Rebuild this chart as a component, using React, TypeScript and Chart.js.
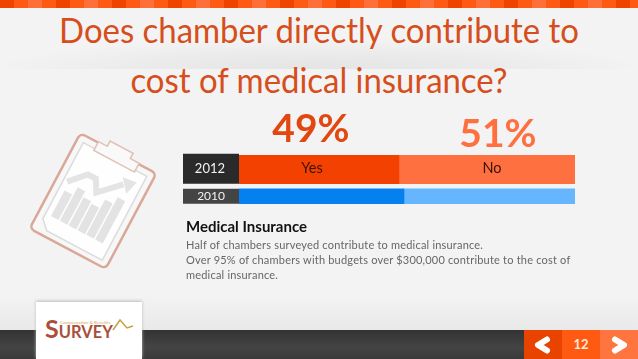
import React, { useEffect, useRef } from "react";
import { Chart, registerables } from "chart.js";

Chart.register(...registerables);

const years = ["2012", "2010"];
const answers = ["Yes", "No"];
const yes2012 = [47.6, null];
const no2012 = [52.4, null];
const yes2010 = [null, 49.1];
const no2010 = [null, 50.9];
const headlineLabels = ["49%", "51%"];
const titleLines = ["Does chamber directly contribute to", "cost of medical insurance?"];
const stripeColors = ["#ee4400", "#ff5a14", "#ff7038", "#ff5a14"];
const FONT = "Lato, sans-serif";

const chartDecor = {
  id: "chartDecor",
  afterDatasetsDraw(chart: any) {
    const { ctx, scales } = chart;
    const x = scales.x;
    const y = scales.y;
    const split = x.getPixelForValue(yes2012[0] as number);
    const end = x.getPixelForValue(100);
    const start = x.getPixelForValue(0);
    const rowY = y.getPixelForValue(0);
    ctx.save();
    ctx.textAlign = "center";
    ctx.textBaseline = "middle";
    ctx.font = `14.5px ${FONT}`;
    ctx.fillStyle = "#3a1206";
    ctx.fillText(answers[0], (start + split) / 2 - 7, rowY);
    ctx.fillText(answers[1], (split + end) / 2 + 5, rowY);
    ctx.font = `bold 39px ${FONT}`;
    ctx.fillStyle = "#e2470f";
    ctx.fillText(headlineLabels[0], (start + split) / 2 - 8, 129);
    ctx.fillStyle = "#ff7040";
    ctx.fillText(headlineLabels[1], (split + end) / 2 + 11, 134);
    ctx.restore();
  },
};

const labelCells = {
  id: "labelCells",
  beforeDraw(chart: any) {
    const { ctx, scales, chartArea } = chart;
    const y = scales.y;
    ctx.save();
    ctx.fillStyle = "#2a2a2a";
    ctx.fillRect(183, y.getPixelForValue(0) - 15, chartArea.left - 183, 30);
    ctx.fillStyle = "#444444";
    ctx.fillRect(183, y.getPixelForValue(1) - 7.5, chartArea.left - 183, 15);
    ctx.restore();
  },
};

const abs = (left: number, top: number, width: number, height: number, extra: React.CSSProperties = {}): React.CSSProperties => ({
  position: "absolute",
  left,
  top,
  width,
  height,
  ...extra,
});

const clipBarTops = [85, 76, 82, 84, 74, 66];

function Clipboard() {
  return (
    <svg style={abs(30, 120, 150, 180)} viewBox="0 0 150 180">
      <g transform="rotate(28 63 81)">
        <rect x="20" y="27" width="86" height="108" rx="5" fill="#f7f7f7" stroke="#d9a898" strokeWidth="2.5" />
        <path d="M27 34 H99 V129 H36 L27 120 Z" fill="#fefefe" stroke="#dcdcdc" strokeWidth="1.5" />
        <path d="M40 36 V26 H50 V20 H76 V26 H86 V36 Z" fill="#f9f9f9" stroke="#e0c0b4" strokeWidth="1.5" />
        <g fill="#e3e3e3">
          {clipBarTops.map((t, i) => (
            <rect key={i} x={33 + i * 10} y={t} width={8.5} height={114 - t} />
          ))}
        </g>
        <path d="M31 76 L46 60 H55 L62 72 L82 52" fill="none" stroke="#e4e4e4" strokeWidth="6" />
        <path d="M78 46 L93 44 L89 59 Z" fill="#e4e4e4" />
      </g>
    </svg>
  );
}

export default function App() {
  const ref = useRef<HTMLCanvasElement | null>(null);
  useEffect(() => {
    const chart = new Chart(ref.current as HTMLCanvasElement, {
      type: "bar",
      data: {
        labels: years,
        datasets: [
          { label: "Yes 2012", data: yes2012, backgroundColor: "#f24100", barThickness: 30 },
          { label: "No 2012", data: no2012, backgroundColor: "#ff7040", barThickness: 30 },
          { label: "Yes 2010", data: yes2010, backgroundColor: "#0580ef", barThickness: 15 },
          { label: "No 2010", data: no2010, backgroundColor: "#66b5ff", barThickness: 15 },
        ] as any,
      },
      options: {
        indexAxis: "y",
        responsive: false,
        animation: false,
        events: [],
        layout: { padding: { left: 0, right: 63, top: 155, bottom: 149 } },
        plugins: { legend: { display: false }, tooltip: { enabled: false }, title: { display: false } },
        scales: {
          x: { stacked: true, min: 0, max: 100, display: false },
          y: {
            stacked: true,
            offset: true,
            afterFit(scale: any) {
              scale.width = 239;
            },
            border: { display: false },
            grid: { display: false, drawTicks: false },
            ticks: {
              color: "#f2f2f2",
              padding: 14,
              font: (c: any) => ({ family: FONT, size: c.index === 0 ? 13 : 12 }),
            },
          },
        },
      } as any,
      plugins: [labelCells, chartDecor],
    });
    return () => chart.destroy();
  }, []);

  return (
    <div style={{ position: "fixed", left: 0, top: 0, width: 638, height: 359, overflow: "hidden", background: "#f3f3f3", fontFamily: FONT }}>
      <div style={abs(0, 8, 638, 61, { background: "radial-gradient(ellipse 330px 30px at 50% 100%,#e4e4e4 0%,#ebebeb 55%,rgba(243,243,243,0) 100%)" })} />
      <div style={abs(0, 0, 638, 8, { display: "flex" })}>
        {Array.from({ length: 46 }).map((_, i) => (
          <div key={i} style={{ width: 14, height: 8, flex: "none", background: stripeColors[i % stripeColors.length] }} />
        ))}
      </div>
      {titleLines.map((line, i) => (
        <div key={line} style={abs(0, 7 + i * 50, 638, 44, { textAlign: "center", color: "#d64e1c", fontSize: 35, lineHeight: "44px", whiteSpace: "nowrap", transform: "scaleX(0.94)" })}>
          {line}
        </div>
      ))}
      <Clipboard />
      <canvas ref={ref} width={638} height={359} style={abs(0, 0, 638, 359, { display: "block" })} />
      <div style={abs(186, 217, 300, 18, { fontWeight: 700, fontSize: 15, lineHeight: "18px", color: "#111" })}>Medical Insurance</div>
      <div style={abs(186, 237, 420, 48, { fontSize: 11, lineHeight: "15px", color: "#666", letterSpacing: 0.2, whiteSpace: "nowrap" })}>
        Half of chambers surveyed contribute to medical insurance.
        <br />
        Over 95% of chambers with budgets over $300,000 contribute to the cost of
        <br />
        medical insurance.
      </div>
      <div style={abs(0, 295, 638, 35, { background: "linear-gradient(to bottom,#f3f3f3,#e9e9e9)" })} />
      <div style={abs(0, 330, 638, 29, { background: "linear-gradient(to bottom,#333,#444 60%,#3a3a3a)" })} />
      <div style={abs(36, 302, 106, 57, { background: "#fff", boxShadow: "0 -1px 3px #bbb" })} />
      <div style={abs(45, 316, 80, 24, { color: "#a9503a", fontWeight: 700, fontSize: 16.5, lineHeight: "24px", whiteSpace: "nowrap" })}>
        <span style={{ fontSize: 25 }}>S</span>URVEY
      </div>
      <div style={abs(60, 320, 60, 6, { color: "#d9a860", fontSize: 4.5, lineHeight: "6px", whiteSpace: "nowrap" })}>Compensation &amp; Benefits</div>
      <svg style={abs(105, 315, 36, 24)} viewBox="0 0 36 24">
        <path d="M8 15 L15 5 L22 13 L28 11" fill="none" stroke="#c9a03f" strokeWidth="1.5" />
      </svg>
      <div style={abs(524, 330, 38, 29, { background: "#e84400" })} />
      <div style={abs(562, 330, 38, 29, { background: "#ff5a12", color: "#ffe9dd", fontWeight: 700, fontSize: 13, lineHeight: "29px", textAlign: "center" })}>12</div>
      <div style={abs(600, 330, 38, 29, { background: "#ff7540" })} />
      <svg style={abs(524, 330, 114, 29)} viewBox="0 0 114 29">
        <path d="M23 9.5 L14 15 L23 20.5" fill="none" stroke="#fff" strokeWidth="6" strokeLinecap="round" strokeLinejoin="round" />
        <path d="M91 9.5 L100 15 L91 20.5" fill="none" stroke="#fff" strokeWidth="6" strokeLinecap="round" strokeLinejoin="round" />
      </svg>
    </div>
  );
}
